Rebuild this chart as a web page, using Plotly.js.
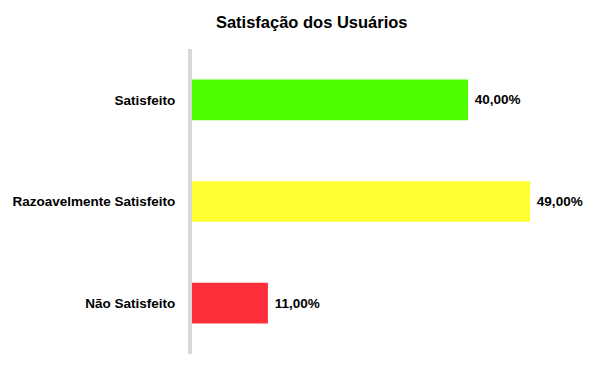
<!DOCTYPE html>
<html>
<head>
<meta charset="utf-8">
<script src="https://cdn.plot.ly/plotly-3.0.1.min.js"></script>
<style>html,body{margin:0;padding:0;background:#fff;}#chart{width:610px;height:366px;}</style>
</head>
<body>
<div id="chart"></div>
<script>
const categories = ["Não Satisfeito", "Razoavelmente Satisfeito", "Satisfeito"];
const values = [11, 49, 40];
const valueLabels = [" 11,00%", " 49,00%", " 40,00%"];
const colors = ["#FF2F3A", "#FFFF33", "#4CFF00"];

const trace = {
  type: "bar",
  orientation: "h",
  y: categories,
  x: values,
  text: valueLabels,
  textposition: "outside",
  cliponaxis: false,
  textfont: {family: "Liberation Sans, Arial, sans-serif", size: 13.5, color: "#000", weight: "bold"},
  marker: {color: colors, line: {width: 0}},
  width: 0.4,
  hoverinfo: "none"
};

const layout = {
  width: 610,
  height: 366,
  margin: {l: 192, r: 4, t: 49, b: 12, pad: 0},
  paper_bgcolor: "#fff",
  plot_bgcolor: "#fff",
  showlegend: false,
  title: {
    text: "<b>Satisfação dos Usuários</b>",
    x: 0.511, xanchor: "center",
    y: 0.94, yanchor: "middle",
    font: {family: "Liberation Sans, Arial, sans-serif", size: 16.5, color: "#000"}
  },
  xaxis: {
    range: [0, 60],
    visible: false,
    showgrid: false,
    zeroline: false,
    fixedrange: true
  },
  yaxis: {
    type: "category",
    range: [-0.5, 2.5],
    showline: true,
    linecolor: "#D9D9D9",
    linewidth: 4,
    showgrid: false,
    zeroline: false,
    ticks: "outside",
    ticklen: 10,
    tickcolor: "rgba(0,0,0,0)",
    tickfont: {family: "Liberation Sans, Arial, sans-serif", size: 13.5, color: "#000", weight: "bold"},
    fixedrange: true
  },
  bargap: 0.6
};

Plotly.newPlot("chart", [trace], layout, {displayModeBar: false, staticPlot: true});
</script>
</body>
</html>
